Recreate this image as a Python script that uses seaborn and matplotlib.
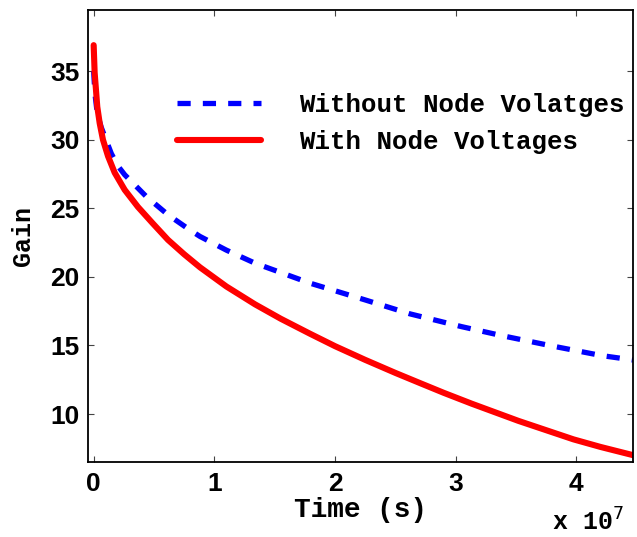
import numpy as np
import pandas as pd
import matplotlib
matplotlib.use("Agg")
import matplotlib.pyplot as plt
import seaborn as sns
from matplotlib.ticker import FuncFormatter

# Data (time in units of 1e7 s)
time_red = [0.0, 0.008, 0.03, 0.05, 0.077, 0.119, 0.174, 0.257, 0.367, 0.49, 0.616,
            0.75, 0.881, 1.1, 1.337, 1.55, 1.794, 2.0, 2.25, 2.5, 2.706, 2.9, 3.134,
            3.52, 3.977, 4.2, 4.47]
gain_with = [36.9, 34.9, 32.4, 31.2, 30.0, 28.8, 27.6, 26.35, 25.1, 23.9, 22.7,
             21.65, 20.7, 19.3, 18.0, 16.95, 15.85, 14.95, 13.95, 13.0, 12.25, 11.55, 10.75,
             9.5, 8.15, 7.6, 7.0]
time_blue = [0.0, 0.01, 0.03, 0.063, 0.146, 0.2, 0.257, 0.436, 0.616, 0.796, 0.881,
             1.1, 1.337, 1.794, 2.25, 2.623, 3.05, 3.38, 3.80, 4.21, 4.47]
gain_without = [35.0, 33.4, 31.9, 30.9, 29.0, 28.1, 27.45, 25.86, 24.53, 23.43, 22.95,
                21.95, 21.0, 19.54, 18.32, 17.3, 16.37, 15.72, 14.96, 14.26, 13.94]
time_scale = 1e7
label_without = "Without Node Volatges"
label_with = "With Node Voltages"
x_ticks = [0, 1, 2, 3, 4]
y_ticks = [10, 15, 20, 25, 30, 35]

sns.set_theme(style="white")
plt.rcParams['font.family'] = ['Liberation Sans', 'DejaVu Sans']

fig = plt.figure(figsize=(6.37, 5.37), dpi=100)
ax = fig.add_axes([88/637, 75/537, (633-88)/637, (462-9.5)/537])

df_b = pd.DataFrame({"t": np.array(time_blue) * time_scale, "g": gain_without})
df_r = pd.DataFrame({"t": np.array(time_red) * time_scale, "g": gain_with})
sns.lineplot(data=df_b, x="t", y="g", ax=ax, color="#0000ff", lw=3.8,
             linestyle=(0, (2.5, 2.3)), label=label_without)
sns.lineplot(data=df_r, x="t", y="g", ax=ax, color="#ff0000", lw=4.4,
             label=label_with)

ax.set_xlim(-0.047e7, 4.47e7)
ax.set_ylim(6.5, 39.5)
ax.set_xticks([v * time_scale for v in x_ticks])
ax.set_yticks(y_ticks)
ax.xaxis.set_major_formatter(FuncFormatter(lambda v, p: f"{v/time_scale:g}"))

for s in ax.spines.values():
    s.set_visible(True)
    s.set_color("black")
    s.set_linewidth(1.3)

ax.tick_params(direction="in", length=4, width=0.8, color="#444444",
               top=True, right=True, bottom=True, left=True,
               labelsize=19, labelcolor="black")
ax.tick_params(axis="x", pad=7)
ax.tick_params(axis="y", pad=6)
for lab in ax.get_xticklabels() + ax.get_yticklabels():
    lab.set_fontweight("bold")

mono = ['Liberation Mono', 'DejaVu Sans Mono']
ax.set_xlabel("Time (s)", family=mono, fontweight="bold", fontsize=20,
              labelpad=1, color="black")
ax.set_ylabel("Gain", family=mono, fontweight="bold", fontsize=18,
              labelpad=11, color="black")

fig.text(552/637, 1-531/537, "x 10$^{7}$", family=mono, fontweight="bold",
         fontsize=18, ha="left", va="baseline", color="black")

leg = ax.legend(loc="upper left", bbox_to_anchor=(0.12, 0.867), frameon=False,
                prop={'family': mono, 'weight': 'bold', 'size': 18.5},
                handlelength=3.3, handletextpad=1.45, labelspacing=0.5)
for t in leg.get_texts():
    t.set_color("black")

fig.savefig("out.png", dpi=100)
